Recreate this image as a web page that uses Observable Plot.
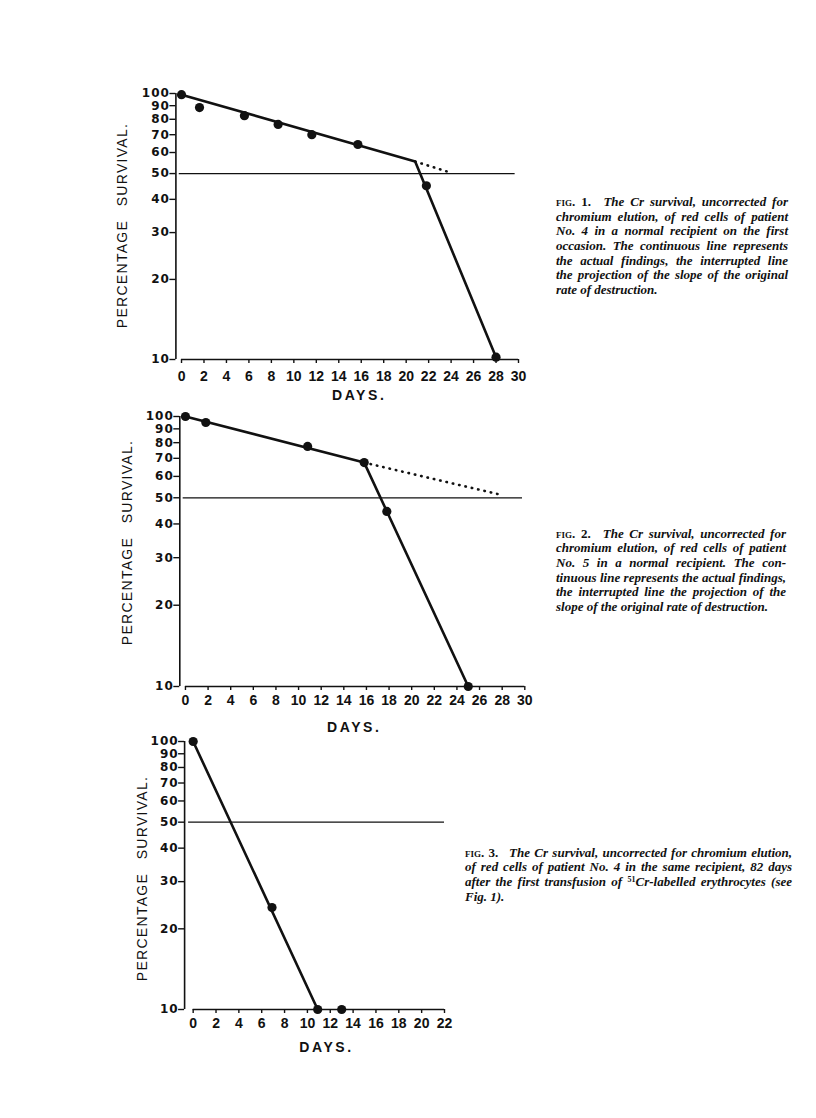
<!DOCTYPE html>
<html><head><meta charset="utf-8">
<script src="https://cdn.jsdelivr.net/npm/d3@7"></script>
<script src="https://cdn.jsdelivr.net/npm/@observablehq/plot@0.6"></script>
<style>
html,body{margin:0;padding:0;background:#fff;}
#page{position:relative;width:816px;height:1118px;overflow:hidden;background:#fff;}
.chart{position:absolute;left:0;}
.chart svg{background:transparent;overflow:visible;}
.cap{position:absolute;font-family:"Liberation Serif",serif;font-style:italic;font-weight:bold;font-size:13px;line-height:14.7px;color:#111;}
.cap div{white-space:nowrap;text-align:justify;text-align-last:justify;height:14.7px;}
.cap div.last{text-align-last:left;}
.cap sup{font-size:8px;line-height:0;vertical-align:4px;font-style:normal;}
.fig{font-style:normal;font-variant:small-caps;font-weight:bold;}
</style></head><body><div id="page"></div>
<script>
// ---- axis ticks ----
const yTicks = [10, 20, 30, 40, 50, 60, 70, 80, 90, 100];
const xTicks1 = [0, 2, 4, 6, 8, 10, 12, 14, 16, 18, 20, 22, 24, 26, 28, 30];
const xTicks2 = [0, 2, 4, 6, 8, 10, 12, 14, 16, 18, 20, 22, 24, 26, 28, 30];
const xTicks3 = [0, 2, 4, 6, 8, 10, 12, 14, 16, 18, 20, 22];
const yLabel = "PERCENTAGE\u2002 SURVIVAL.";
const xLabel = "DAYS.";

// ---- Fig. 1 ----
const fig1Days = [0, 1.6, 5.6, 8.6, 11.6, 15.7, 21.8, 28];
const fig1Pct = [99, 88.5, 82.5, 76.5, 70, 64.3, 45, 10.2];
const fig1LineDays = [0, 20.8, 28];
const fig1LinePct = [99, 55.5, 10.2];
const fig1ProjDays = [20.8, 23.9];
const fig1ProjPct = [55.5, 50.5];
const fig1HalfDays = [-0.2, 29.7];

// ---- Fig. 2 ----
const fig2Days = [0, 1.8, 10.8, 15.8, 17.8, 25];
const fig2Pct = [100, 95, 77.5, 67.5, 44.5, 10];
const fig2LineDays = [0, 15.8, 25];
const fig2LinePct = [100, 67.5, 10];
const fig2ProjDays = [15.8, 27.7];
const fig2ProjPct = [67.5, 51.5];
const fig2HalfDays = [-0.2, 29.8];

// ---- Fig. 3 ----
const fig3Days = [0, 6.9, 10.9, 13];
const fig3Pct = [100, 24, 10, 10];
const fig3LineDays = [0, 10.9];
const fig3LinePct = [100, 10];
const fig3HalfDays = [-0.4, 22];

// ---- captions ----
const cap1 = [
  "The Cr survival, uncorrected for",
  "chromium elution, of red cells of patient",
  "No. 4 in a normal recipient on the first",
  "occasion. The continuous line represents",
  "the actual findings, the interrupted line",
  "the projection of the slope of the original",
  "rate of destruction."
];
const cap2 = [
  "The Cr survival, uncorrected for",
  "chromium elution, of red cells of patient",
  "No. 5 in a normal recipient. The con-",
  "tinuous line represents the actual findings,",
  "the interrupted line the projection of the",
  "slope of the original rate of destruction."
];
const cap3 = [
  "The Cr survival, uncorrected for chromium elution,",
  "of red cells of patient No. 4 in the same recipient, 82 days",
  "after the first transfusion of <sup>51</sup>Cr-labelled erythrocytes (see",
  "Fig. 1)."
];

const zip = (a, b) => a.map((d, i) => ({day: d, pct: b[i]}));

// layout (page pixels)
const charts = [
  {top: 60, height: 350, width: 560, y100: 93, y10: 359, xLeft: 175.4, xRight: 518, xDomain: [-0.5, 30],
   ticks: xTicks1, pad: 8, ylab: {dx: -53, dy: -1}, xlab: {dx: 12, dy: 36},
   pts: zip(fig1Days, fig1Pct), fit: zip(fig1LineDays, fig1LinePct), proj: zip(fig1ProjDays, fig1ProjPct), half: fig1HalfDays},
  {top: 400, height: 345, width: 560, y100: 416, y10: 686, xLeft: 179.3, xRight: 524.3, xDomain: [-0.5, 30],
   ticks: xTicks2, pad: 5, ylab: {dx: -52, dy: -9}, xlab: {dx: 2, dy: 41.5},
   pts: zip(fig2Days, fig2Pct), fit: zip(fig2LineDays, fig2LinePct), proj: zip(fig2ProjDays, fig2ProjPct), half: fig2HalfDays},
  {top: 725, height: 345, width: 480, y100: 741, y10: 1009, xLeft: 184.1, xRight: 444, xDomain: [-0.75, 22],
   ticks: xTicks3, pad: 5, ylab: {dx: -42, dy: 3}, xlab: {dx: 12, dy: 38},
   pts: zip(fig3Days, fig3Pct), fit: zip(fig3LineDays, fig3LinePct), proj: null, half: fig3HalfDays}
];

const page = document.getElementById("page");

for (const c of charts) {
  const marks = [
    Plot.ruleX([c.xDomain[0]], {y1: 10, y2: 100, strokeWidth: 1.6}),
    Plot.ruleY([10], {x1: c.ticks[0], x2: c.ticks[c.ticks.length - 1], strokeWidth: 1.6}),
    Plot.ruleY([50], {x1: c.half[0], x2: c.half[1], strokeWidth: 1.2}),
    Plot.axisY({ticks: yTicks, tickSize: 6, tickPadding: 0, tickFormat: d => `${d}`, label: null,
      fontFamily: "DejaVu Sans", fontWeight: "bold", fontSize: 12, strokeWidth: 1.4}),
    Plot.axisX({ticks: c.ticks, tickSize: 4, tickPadding: c.pad, tickFormat: d => `${d}`, label: null,
      fontFamily: "Liberation Sans", fontWeight: "bold", fontSize: 14, strokeWidth: 1.4}),
    Plot.line(c.fit, {x: "day", y: "pct", strokeWidth: 2.6}),
    c.proj ? Plot.line(c.proj, {x: "day", y: "pct", strokeWidth: 2.6, strokeDasharray: "0.5 6", strokeLinecap: "round"}) : null,
    Plot.dot(c.pts, {x: "day", y: "pct", r: 4.6, fill: "currentColor", stroke: null}),
    Plot.text([yLabel], {text: d => d, frameAnchor: "left", rotate: -90, dx: c.ylab.dx, dy: c.ylab.dy,
      fontSize: 14, fontFamily: "Liberation Sans", textAnchor: "middle", lineAnchor: "middle"}),
    Plot.text([xLabel], {text: d => d, frameAnchor: "bottom", dx: c.xlab.dx, dy: c.xlab.dy,
      fontSize: 14, fontFamily: "Liberation Sans", fontWeight: "bold", textAnchor: "middle", lineAnchor: "middle"})
  ].filter(Boolean);
  const svg = Plot.plot({
    width: c.width, height: c.height,
    marginTop: c.y100 - c.top, marginBottom: c.top + c.height - c.y10,
    marginLeft: c.xLeft, marginRight: c.width - c.xRight,
    x: {domain: c.xDomain},
    y: {type: "log", domain: [10, 100]},
    style: {background: "transparent", color: "#111", fontFamily: "Liberation Sans", fontSize: "14px"},
    marks
  });
  // typographic spacing of the axis titles and y tick labels
  d3.select(svg).selectAll("text").each(function () {
    const t = this.textContent;
    if (t === yLabel) this.setAttribute("letter-spacing", "1.3px");
    else if (t === xLabel) this.setAttribute("letter-spacing", "2.6px");
  });
  d3.select(svg).selectAll('g[aria-label="y-axis tick label"] text').attr("letter-spacing", "1px");
  const wrap = document.createElement("div");
  wrap.className = "chart";
  wrap.style.top = c.top + "px";
  wrap.appendChild(svg);
  page.appendChild(wrap);
}

function caption(num, lines, left, top, width) {
  const d = document.createElement("div");
  d.className = "cap";
  d.style.left = left + "px"; d.style.top = top + "px"; d.style.width = width + "px";
  d.innerHTML = lines.map((l, i) =>
    `<div${i === lines.length - 1 ? ' class="last"' : ''}>${i === 0 ? `<span class="fig">fig. ${num}.</span>&ensp; ` : ''}${l}</div>`
  ).join("");
  page.appendChild(d);
}
caption(1, cap1, 556, 195, 232);
caption(2, cap2, 556, 526.5, 230);
caption(3, cap3, 465, 845.5, 327);
</script>
</body></html>
